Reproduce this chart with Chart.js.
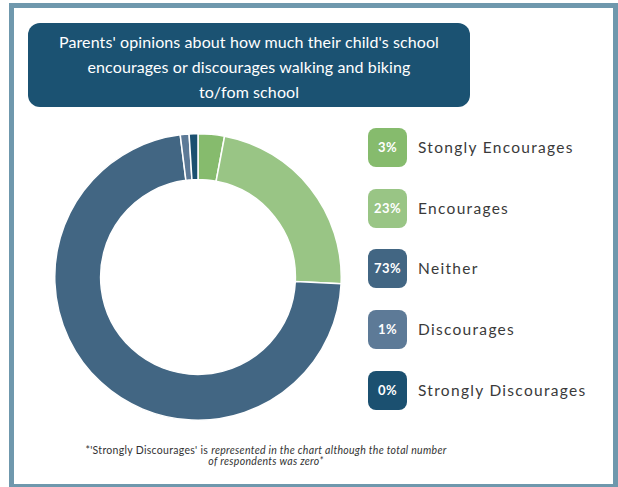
<!DOCTYPE html>
<html>
<head>
<meta charset="utf-8">
<script src="https://cdn.jsdelivr.net/npm/chart.js@4"></script>
<style>
  html, body { margin: 0; padding: 0; background: #fff; }
  body { width: 618px; height: 487px; position: relative; overflow: hidden; font-family: "Lato", "Open Sans", sans-serif; }
  .frame { position: absolute; left: 9px; top: 3px; width: 599px; height: 476px; border: 5px solid #6f98ad; }
  .title { position: absolute; left: 28px; top: 23px; width: 442px; height: 84px; background: #1b5272; border-radius: 12px;
           color: #fff; text-align: center; font-size: 16px; line-height: 25px; padding-top: 6px;
           box-sizing: border-box; letter-spacing: 0.1px; }
  #chartWrap { position: absolute; left: 54px; top: 133px; width: 288px; height: 288px; }
  .legend { position: absolute; left: 368px; top: 128px; }
  .item { position: absolute; left: 0; width: 240px; height: 39px; }
  .box { position: absolute; left: 0; top: 0; width: 39px; height: 39px; border-radius: 8px; color: #fff; font-weight: bold;
         font-size: 13px; line-height: 39px; text-align: center; letter-spacing: 0.5px; }
  .lab { position: absolute; left: 50px; top: 0; line-height: 39px; font-size: 15.5px; color: #3a3a3a;
         letter-spacing: 1.3px; white-space: nowrap; }
  .note { position: absolute; left: 40px; width: 452px; top: 445px; text-align: center; font-size: 10.5px; line-height: 11px;
          color: #333; letter-spacing: 0.3px; }
</style>
</head>
<body>
<div class="frame"></div>
<div class="title">Parents' opinions about how much their child's school<br>encourages or discourages walking and biking<br>to/fom school</div>
<div id="chartWrap"><canvas id="donut"></canvas></div>
<div class="legend" id="legend"></div>
<div class="note">*'Strongly Discourages' is <i>represented in the chart although the total number<br>of respondents was zero*</i></div>
<script>
const categories = ['Stongly Encourages', 'Encourages', 'Neither', 'Discourages', 'Strongly Discourages'];
// share of respondents; Strongly Discourages gets a sliver so it still shows up
const values = [3, 23, 73, 1, 1];
const pctLabels = ['3%', '23%', '73%', '1%', '0%'];
const colors = ['#86bb6d', '#99c585', '#426683', '#5d7a97', '#1b5070'];

// legend on the right
const legend = document.getElementById('legend');
categories.forEach((name, i) => {
  const item = document.createElement('div');
  item.className = 'item';
  item.style.top = (i * 60.7) + 'px';
  item.innerHTML = '<div class="box" style="background:' + colors[i] + '">' + pctLabels[i] + '</div>' +
                   '<div class="lab">' + name + '</div>';
  legend.appendChild(item);
});

const donutCtx = document.getElementById('donut').getContext('2d');
const donutChart = new Chart(donutCtx, {
  type: 'doughnut',
  data: {
    labels: categories,
    datasets: [{
      data: values,
      backgroundColor: colors,
      borderColor: '#fff',
      borderWidth: 1.5
    }]
  },
  options: {
    responsive: true,
    maintainAspectRatio: false,
    animation: false,
    cutout: '68%',
    layout: { padding: 0 },
    plugins: {
      legend: { display: false },
      tooltip: { enabled: false }
    }
  }
});
</script>
</body>
</html>
